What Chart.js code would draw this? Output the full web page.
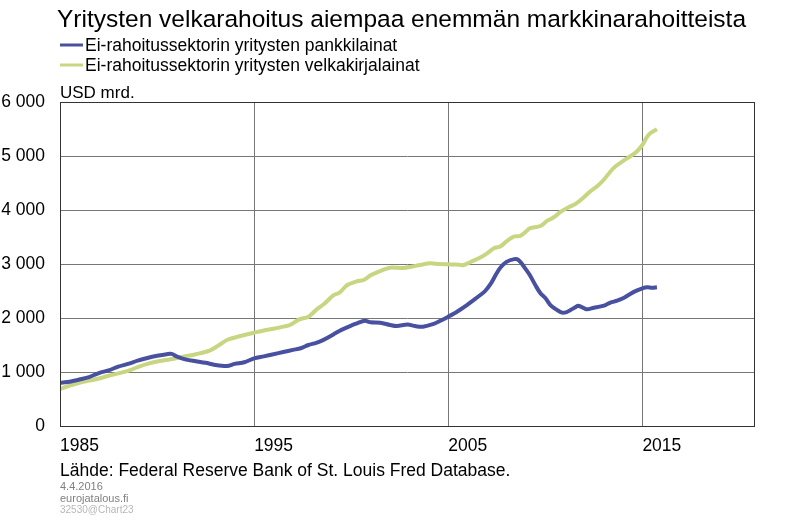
<!DOCTYPE html>
<html>
<head>
<meta charset="utf-8">
<script src="https://cdn.jsdelivr.net/npm/chart.js@4/dist/chart.umd.min.js"></script>
<style>
  body { margin: 0; background: #fff; }
  #wrap { width: 800px; height: 522px; position: relative; }
</style>
</head>
<body>
<div id="wrap"><canvas id="myChart"></canvas></div>
<script>
const titleText = 'Yritysten velkarahoitus aiempaa enemmän markkinarahoitteista';
const seriesNames = ['Ei-rahoitussektorin yritysten pankkilainat', 'Ei-rahoitussektorin yritysten velkakirjalainat'];
const unitLabel = 'USD mrd.';
const xTicks = [1985, 1995, 2005, 2015];
const yTicks = [0, 1000, 2000, 3000, 4000, 5000, 6000];

// pankkilainat
const bankYears = [1985.0, 1985.5, 1986.0, 1986.5, 1987.0, 1987.5, 1988.0, 1988.5, 1989.0, 1989.5, 1990.0, 1990.5, 1990.75,
  1991.0, 1991.5, 1992.0, 1992.5, 1993.0, 1993.6, 1994.0, 1994.5, 1995.0, 1995.5, 1996.0, 1996.5, 1997.0, 1997.4, 1997.8,
  1998.2, 1998.6, 1999.1, 1999.5, 2000.0, 2000.3, 2000.7, 2001.0, 2001.5, 2002.0, 2002.35, 2002.9, 2003.3, 2003.7, 2004.25,
  2004.6, 2005.0, 2005.45, 2005.96, 2006.3, 2006.65, 2006.9, 2007.2, 2007.45, 2007.7, 2008.0, 2008.4, 2008.6, 2008.8,
  2009.0, 2009.2, 2009.5, 2009.75, 2010.0, 2010.26, 2010.6, 2010.86, 2011.1, 2011.3, 2011.55, 2011.7, 2012.0, 2012.15,
  2012.5, 2012.8, 2013.1, 2013.35, 2013.7, 2014.0, 2014.35, 2014.7, 2015.0, 2015.25, 2015.5, 2015.75];
const bankValues = [800, 820, 860, 905, 980, 1030, 1100, 1150, 1210, 1260, 1300, 1330, 1335,
  1290, 1230, 1200, 1170, 1130, 1110, 1150, 1180, 1253, 1290, 1330, 1370, 1410, 1440, 1500,
  1540, 1600, 1700, 1780, 1860, 1900, 1950, 1920, 1913, 1870, 1850, 1880, 1850, 1840, 1890,
  1950, 2025, 2117, 2240, 2330, 2425, 2500, 2640, 2800, 2938, 3040, 3090, 3080, 3000,
  2900, 2795, 2600, 2457, 2370, 2240, 2150, 2100, 2110, 2148, 2200, 2228, 2180, 2160,
  2190, 2210, 2240, 2284, 2320, 2364, 2440, 2506, 2550, 2568, 2560, 2570];

// velkakirjalainat
const bondYears = [1985.0, 1985.5, 1986.0, 1986.5, 1987.0, 1987.5, 1988.0, 1988.5, 1989.0, 1989.5, 1990.0, 1990.7, 1991.35,
  1992.0, 1992.7, 1993.2, 1993.6, 1994.3, 1995.0, 1995.5, 1996.0, 1996.5, 1996.85, 1997.3, 1997.8, 1998.2, 1998.6,
  1999.1, 1999.4, 1999.8, 2000.3, 2000.65, 2001.0, 2001.3, 2001.7, 2002.0, 2002.4, 2002.7, 2003.1, 2003.55, 2004.07,
  2004.5, 2005.0, 2005.4, 2005.8, 2006.3, 2006.7, 2007.0, 2007.35, 2007.7, 2008.0, 2008.4, 2008.7, 2009.0, 2009.2,
  2009.75, 2010.1, 2010.26, 2010.5, 2010.8, 2011.2, 2011.6, 2012.0, 2012.3, 2012.7, 2013.0, 2013.5, 2014.0, 2014.4,
  2014.7, 2015.0, 2015.2, 2015.4, 2015.75];
const bondValues = [685, 750, 800, 840, 880, 930, 975, 1020, 1090, 1150, 1195, 1235, 1284,
  1330, 1395, 1500, 1593, 1667, 1728, 1770, 1802, 1840, 1870, 1970, 2025, 2150, 2259,
  2425, 2469, 2611, 2680, 2704, 2790, 2840, 2900, 2932, 2930, 2926, 2950, 2981, 3012,
  3000, 2994, 2990, 2981, 3062, 3130, 3198, 3290, 3330, 3420, 3510, 3518, 3600, 3660,
  3704, 3802, 3827, 3880, 3969, 4050, 4123, 4240, 4340, 4450, 4556, 4772, 4907, 5000,
  5080, 5204, 5330, 5420, 5494];

const blue = 'rgb(72, 80, 160)';
const green = 'rgb(200, 214, 130)';
const FONT = '"Liberation Sans", Arial, sans-serif';

const toPoints = (xs, ys) => xs.map((x, i) => ({ x: x, y: ys[i] }));
const fmt = v => String(v).replace(/\B(?=(\d{3})+(?!\d))/g, ' ');

// otsikko, selite ja lähdetekstit piirretään itse
const textPlugin = {
  id: 'texts',
  afterDraw(chart) {
    const c = chart.ctx;
    const a = chart.chartArea;
    c.save();
    c.fillStyle = '#000';
    c.textAlign = 'left';
    c.textBaseline = 'alphabetic';
    c.font = '24.5px ' + FONT;
    c.fillText(titleText, 57, 27);

    c.font = '17.5px ' + FONT;
    chart.data.datasets.forEach((ds, i) => {
      const y = 45 + i * 20;
      c.strokeStyle = ds.borderColor;
      c.lineWidth = 3;
      c.beginPath();
      c.moveTo(60, y);
      c.lineTo(83, y);
      c.stroke();
      c.fillText(ds.label, 85, y + 6);
    });
    c.font = '17px ' + FONT;
    c.fillText(unitLabel, 60, 98);
    c.font = '17.5px ' + FONT;
    c.fillText('Lähde: Federal Reserve Bank of St. Louis Fred Database.', 60, 476);

    c.font = '11px ' + FONT;
    c.fillStyle = '#808080';
    c.fillText('4.4.2016', 60, 490);
    c.fillText('eurojatalous.fi', 60, 502);
    c.fillStyle = '#b8b8b8';
    c.font = '10px ' + FONT;
    c.fillText('32530@Chart23', 60, 513);

    // kehys
    c.strokeStyle = '#333';
    c.lineWidth = 1;
    c.strokeRect(a.left + 0.5, a.top + 0.5, a.right - a.left, a.bottom - a.top);
    c.restore();
  }
};

var ctx = document.getElementById('myChart').getContext('2d');
var chart = new Chart(ctx, {
  type: 'line',
  data: {
    datasets: [
      {
        label: seriesNames[0],
        data: toPoints(bankYears, bankValues),
        borderColor: blue,
        backgroundColor: blue,
        borderWidth: 4,
        pointRadius: 0,
        tension: 0.3,
        fill: false,
        order: 1
      },
      {
        label: seriesNames[1],
        data: toPoints(bondYears, bondValues),
        borderColor: green,
        backgroundColor: green,
        borderWidth: 4,
        pointRadius: 0,
        tension: 0.3,
        fill: false,
        order: 2
      }
    ]
  },
  options: {
    responsive: true,
    maintainAspectRatio: false,
    animation: false,
    layout: { padding: { top: 102, right: 46, left: 0, bottom: 0 } },
    plugins: {
      legend: { display: false },
      title: { display: false },
      tooltip: { enabled: false }
    },
    scales: {
      x: {
        type: 'linear',
        min: 1985,
        max: 2020.75,
        afterBuildTicks: scale => { scale.ticks = xTicks.map(v => ({ value: v })); },
        afterFit: scale => { scale.height = 96; },
        grid: { color: '#777', drawTicks: false },
        border: { color: '#333' },
        ticks: {
          align: 'start',
          padding: 10,
          color: '#000',
          font: { family: FONT, size: 17.5 },
          callback: v => String(v)
        }
      },
      y: {
        min: 0,
        max: 6000,
        afterBuildTicks: scale => { scale.ticks = yTicks.map(v => ({ value: v })); },
        afterFit: scale => { scale.width = 60; },
        grid: { color: '#777', drawTicks: false },
        border: { color: '#333' },
        ticks: {
          padding: 15,
          color: '#000',
          font: { family: FONT, size: 17.5 },
          callback: v => fmt(v)
        }
      }
    }
  },
  plugins: [textPlugin]
});
</script>
</body>
</html>
